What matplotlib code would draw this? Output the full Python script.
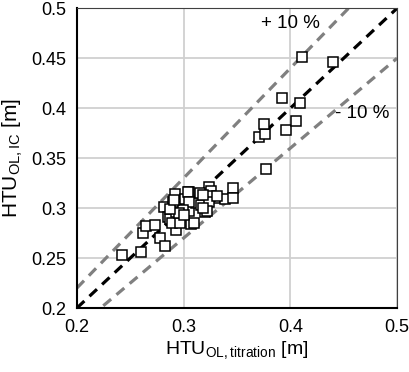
import matplotlib
matplotlib.use('Agg')
import matplotlib.pyplot as plt
import numpy as np

plt.rcParams['font.family'] = ['Liberation Sans', 'DejaVu Sans']
plt.rcParams['mathtext.fontset'] = 'custom'
plt.rcParams['mathtext.rm'] = 'Liberation Sans'

# HTU values
htu_titration = [0.242, 0.260, 0.262, 0.265, 0.273, 0.278, 0.283, 0.282, 0.292, 0.293,
                 0.285, 0.287, 0.289, 0.290, 0.293, 0.297, 0.293, 0.301, 0.305, 0.305,
                 0.307, 0.304, 0.312, 0.316, 0.320, 0.324, 0.326, 0.329, 0.325, 0.339,
                 0.346, 0.346, 0.315, 0.324, 0.322, 0.305, 0.299, 0.296, 0.310, 0.318,
                 0.287, 0.300, 0.377, 0.371, 0.376, 0.375, 0.396, 0.405, 0.392, 0.409,
                 0.411, 0.440, 0.291, 0.318, 0.331]
htu_ic = [0.253, 0.256, 0.275, 0.282, 0.283, 0.270, 0.262, 0.301, 0.314, 0.278,
          0.291, 0.289, 0.285, 0.306, 0.301, 0.285, 0.296, 0.309, 0.316, 0.297,
          0.284, 0.316, 0.305, 0.303, 0.296, 0.321, 0.317, 0.310, 0.312, 0.309,
          0.320, 0.310, 0.315, 0.306, 0.297, 0.306, 0.298, 0.295, 0.285, 0.313,
          0.299, 0.293, 0.339, 0.371, 0.374, 0.384, 0.378, 0.387, 0.410, 0.405,
          0.451, 0.446, 0.308, 0.300, 0.312]

x_ticks = [0.2, 0.3, 0.4, 0.5]
y_ticks = [0.2, 0.25, 0.3, 0.35, 0.4, 0.45, 0.5]

fig = plt.figure(figsize=(4.09, 3.72), dpi=100)
ax = fig.add_axes([0.188, 0.172, 0.783, 0.806])

line_x = np.array([0.2, 0.5])
ax.plot(line_x, 1.1 * line_x, color='#808080', lw=2.3, dashes=(3.2, 2.2), zorder=2)
ax.plot(line_x, 0.9 * line_x, color='#808080', lw=2.3, dashes=(3.2, 2.2), zorder=2)
ax.plot(line_x, line_x, color='black', lw=2.3, dashes=(3.2, 2.2), zorder=2)

ax.plot(htu_titration, htu_ic, linestyle='none', marker='s', ms=7.8,
        mfc='white', mec='black', mew=1.1, zorder=3)

ax.text(0.3996, 0.485, '+ 10 %', fontsize=13.5, ha='center', va='center')
ax.text(0.467, 0.395, '- 10 %', fontsize=13.5, ha='center', va='center')

ax.set_xlim(0.2, 0.5)
ax.set_ylim(0.2, 0.5)
ax.set_xticks(x_ticks)
ax.set_xticklabels([str(t) for t in x_ticks])
ax.set_yticks(y_ticks)
ax.set_yticklabels([str(t) for t in y_ticks])
ax.tick_params(length=0, labelsize=13, pad=8)
ax.grid(True, color='#d0d0d0', lw=1.3, zorder=0)
ax.set_axisbelow(True)
for s in ['top', 'right']:
    ax.spines[s].set_color('#404040')
    ax.spines[s].set_linewidth(0.8)
for s in ['left', 'bottom']:
    ax.spines[s].set_color('black')
    ax.spines[s].set_linewidth(1.5)

ax.set_xlabel(r'HTU$_{\mathregular{OL,titration}}$ [m]', fontsize=14, labelpad=3)
ax.set_ylabel(r'HTU$_{\mathregular{OL,IC}}$ [m]', fontsize=15, labelpad=4)

fig.savefig('out.png', dpi=100)
